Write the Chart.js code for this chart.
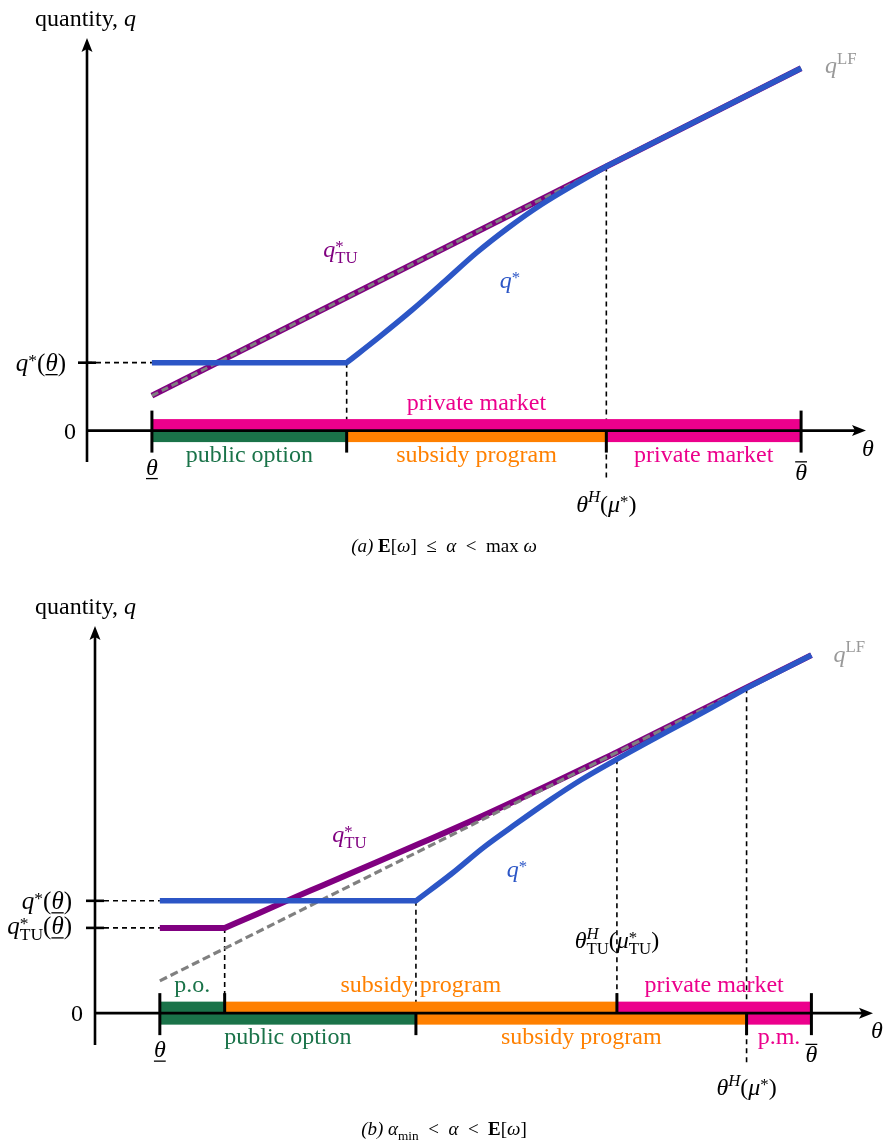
<!DOCTYPE html>
<html>
<head>
<meta charset="utf-8">
<script src="https://cdn.jsdelivr.net/npm/chart.js@4.4.0/dist/chart.umd.min.js"></script>
<style>
  html, body { margin: 0; padding: 0; background: #fff; }
  canvas { display: block; }
</style>
</head>
<body>
<canvas id="chartA" width="888" height="575"></canvas>
<canvas id="chartB" width="888" height="571"></canvas>
<script>
// ---------- panel (a) : E[w] <= alpha < max w ----------
const thetaLowA = 10, kinkA = 40, thetaHA = 80, thetaHighA = 110;
const laissezFaireA = [[10, 8.9], [110, 92.3]];
const tuLineA = [[10, 8.9], [110, 92.3]];          // q*_TU coincides with q^LF
const qStarA = [[10, 17.3], [40, 17.3], [45, 23.8], [50, 30.6], [55, 37.9], [60, 45.3],
                [65, 51.8], [70, 57.6], [75, 62.6], [80, 67.3], [110, 92.3]];
const aboveA = [['private market', 10, 110]];
const belowA = [['public option', 10, 40], ['subsidy program', 40, 80], ['private market', 80, 110]];
const ticksA = [[10, 'both'], [40, 'below'], [80, 'below'], [110, 'both']];

// ---------- panel (b) : alpha_min < alpha < E[w] ----------
const thetaLowB = 10, poB = 20, kinkB = 49.5, thetaHTUB = 80.5, thetaHB = 100.5, thetaHighB = 110.5;
const laissezFaireB = [[10, 8.1], [110.5, 89.9]];
const tuLineB = [[10, 21.4], [20, 21.4], [25, 24.9], [30, 28.5], [35, 32.0], [40, 35.5],
                 [50, 42.5], [60, 49.7], [70, 57.3], [80, 65.1], [110.5, 89.9]];
const qStarB = [[10, 28.2], [49.5, 28.2], [55, 35.0], [60, 41.7], [65, 47.6], [70, 53.3],
                [75, 58.6], [80, 63.3], [85, 67.8], [90, 72.2], [95, 76.6], [100.5, 81.6], [110.5, 89.9]];
const aboveB = [['p.o.', 10, 20], ['subsidy program', 20, 80.5], ['private market', 80.5, 110.5]];
const belowB = [['public option', 10, 49.5], ['subsidy program', 49.5, 100.5], ['p.m.', 100.5, 110.5]];
const ticksB = [[10, 'both'], [20, 'above'], [49.5, 'below'], [80.5, 'above'], [100.5, 'below'], [110.5, 'both']];

const programColor = {
    'public option': '#1a7349', 'p.o.': '#1a7349',
    'subsidy program': '#ff8000',
    'private market': '#ec008c', 'p.m.': '#ec008c'
};
const BLUE = '#2c56c6', PURPLE = '#800080', GRAY = '#808080';
const SERIF = '"Liberation Serif", "Times New Roman", serif';

// value of a polyline at x (used to start the guide lines on the curves)
function valueAt(pts, x) {
    for (let i = 1; i < pts.length; i++) {
        if (x <= pts[i][0]) {
            const [x1, y1] = pts[i - 1], [x2, y2] = pts[i];
            return y1 + (y2 - y1) * (x - x1) / (x2 - x1);
        }
    }
    return pts[pts.length - 1][1];
}
const idx = (pts, x) => pts.findIndex(p => p[0] === x);

// ---- little rich text helper (italic / sup / sub / bars) ----
const R = t => ({ t });
const I = (t, deco) => ({ t, i: true, deco });
const B = t => ({ t, b: true });
const Sup = (t, i, raise) => ({ t, i, sup: true, raise });
const Sub = (t, i) => ({ t, i, sub: true });
const SS = (a, b) => ({ stack: [a, b] });
const SP = '\u2002';   // wider space round relations, like math spacing

function font(size, it, bold) {
    return (it ? 'italic ' : '') + (bold ? 'bold ' : '') + size + 'px ' + SERIF;
}
function partWidth(ctx, p, size) {
    if (p.stack) {
        return Math.max(...p.stack.map(q => {
            ctx.font = font(size * 0.7, q.i, q.b);
            return ctx.measureText(q.t).width;
        }));
    }
    ctx.font = font((p.sup || p.sub) ? size * 0.7 : size, p.i, p.b);
    return ctx.measureText(p.t).width;
}
function drawRich(ctx, parts, x, y, align, color, size) {
    size = size || 24;
    let w = 0;
    parts.forEach(p => w += partWidth(ctx, p, size));
    let cx = align === 'center' ? x - w / 2 : align === 'right' ? x - w : x;
    ctx.save();
    ctx.fillStyle = color;
    ctx.strokeStyle = color;
    ctx.textAlign = 'left';
    ctx.textBaseline = 'alphabetic';
    parts.forEach(p => {
        const pw = partWidth(ctx, p, size);
        if (p.stack) {
            const [a, b] = p.stack;
            ctx.font = font(size * 0.7, a.i, a.b);
            ctx.fillText(a.t, cx, y - size * (a.raise || 0.4));
            ctx.font = font(size * 0.7, b.i, b.b);
            ctx.fillText(b.t, cx, y + size * 0.24);
        } else {
            ctx.font = font((p.sup || p.sub) ? size * 0.7 : size, p.i, p.b);
            const dy = p.sup ? -size * (p.raise || 0.4) : p.sub ? size * 0.24 : 0;
            ctx.fillText(p.t, cx, y + dy);
            if (p.deco) {
                ctx.lineWidth = 1.3;
                ctx.beginPath();
                const ly = p.deco === 'under' ? y + 4 : y - size * 0.74;
                ctx.moveTo(cx, ly);
                ctx.lineTo(cx + pw, ly);
                ctx.stroke();
            }
        }
        cx += pw;
    });
    ctx.restore();
}

function lineSet(points, color, width, order, extra) {
    return Object.assign({
        data: points.map(([x, y]) => ({ x, y })),
        borderColor: color,
        borderWidth: width,
        pointRadius: 0,
        fill: false,
        tension: 0,
        borderCapStyle: 'butt',
        borderJoinStyle: 'miter',
        order: order
    }, extra || {});
}
// smooth middle part of a kinked curve; round cap hides the seam at the kink
const smooth = { cubicInterpolationMode: 'monotone', borderCapStyle: 'round' };

function dashed(ctx, x1, y1, x2, y2) {
    ctx.save();
    ctx.strokeStyle = '#000';
    ctx.lineWidth = 1.6;
    ctx.setLineDash([5, 4]);
    ctx.beginPath();
    ctx.moveTo(x1, y1);
    ctx.lineTo(x2, y2);
    ctx.stroke();
    ctx.restore();
}

// bars, axes with arrows, ticks and program names
function drawFrame(chart, above, below, ticks) {
    const ctx = chart.ctx;
    const { top, bottom, right } = chart.chartArea;
    const sx = chart.scales.x, sy = chart.scales.y;
    const x0 = sx.getPixelForValue(0), y0 = sy.getPixelForValue(0);
    const H = 11.5;
    ctx.save();
    above.forEach(([name, a, b]) => {
        ctx.fillStyle = programColor[name];
        ctx.fillRect(sx.getPixelForValue(a), y0 - H, sx.getPixelForValue(b) - sx.getPixelForValue(a), H);
        drawRich(ctx, [R(name)], (sx.getPixelForValue(a) + sx.getPixelForValue(b)) / 2, y0 - 21, 'center', programColor[name]);
    });
    below.forEach(([name, a, b]) => {
        ctx.fillStyle = programColor[name];
        ctx.fillRect(sx.getPixelForValue(a), y0, sx.getPixelForValue(b) - sx.getPixelForValue(a), H);
        drawRich(ctx, [R(name)], (sx.getPixelForValue(a) + sx.getPixelForValue(b)) / 2, y0 + 31, 'center', programColor[name]);
    });
    ctx.strokeStyle = '#000';
    ctx.fillStyle = '#000';
    ctx.lineWidth = 2.6;
    ctx.beginPath();
    ctx.moveTo(x0, bottom);
    ctx.lineTo(x0, top + 10);
    ctx.moveTo(x0, y0);
    ctx.lineTo(right - 10, y0);
    ctx.stroke();
    ctx.beginPath();
    ctx.moveTo(x0, top);
    ctx.lineTo(x0 - 5.5, top + 14);
    ctx.lineTo(x0, top + 11);
    ctx.lineTo(x0 + 5.5, top + 14);
    ctx.closePath();
    ctx.fill();
    ctx.beginPath();
    ctx.moveTo(right, y0);
    ctx.lineTo(right - 14, y0 - 5.5);
    ctx.lineTo(right - 11, y0);
    ctx.lineTo(right - 14, y0 + 5.5);
    ctx.closePath();
    ctx.fill();
    ctx.lineWidth = 3;
    ticks.forEach(([v, kind]) => {
        const px = sx.getPixelForValue(v);
        ctx.beginPath();
        ctx.moveTo(px, kind === 'below' ? y0 : y0 - 20);
        ctx.lineTo(px, kind === 'above' ? y0 : y0 + 22);
        ctx.stroke();
    });
    ctx.restore();
}

function yTick(chart, v) {
    const ctx = chart.ctx;
    const x0 = chart.scales.x.getPixelForValue(0), py = chart.scales.y.getPixelForValue(v);
    ctx.save();
    ctx.strokeStyle = '#000';
    ctx.lineWidth = 2.6;
    ctx.beginPath();
    ctx.moveTo(x0 - 9, py);
    ctx.lineTo(x0 + 9, py);
    ctx.stroke();
    ctx.restore();
}

function baseOptions(pad, yMax) {
    return {
        responsive: false,
        animation: false,
        devicePixelRatio: 1,
        layout: { padding: pad },
        scales: {
            x: { type: 'linear', min: 0, max: 120, display: false },
            y: { type: 'linear', min: -8, max: yMax, display: false }
        },
        plugins: { legend: { display: false }, tooltip: { enabled: false } }
    };
}

// ---------- chart (a) ----------
const qLowA = qStarA[0][1];
const hA = idx(qStarA, thetaHA);
new Chart(document.getElementById('chartA').getContext('2d'), {
    type: 'line',
    data: {
        datasets: [
            lineSet(qStarA.slice(0, 2), BLUE, 5.5, 1),
            lineSet(qStarA.slice(1, hA + 1), BLUE, 5.5, 1, smooth),
            lineSet(qStarA.slice(hA), BLUE, 5.5, 1),
            lineSet(laissezFaireA, GRAY, 3, 2, { borderDash: [7, 4] }),
            lineSet(tuLineA, PURPLE, 6, 3)
        ]
    },
    options: baseOptions({ left: 87, right: 22, top: 38, bottom: 113 }, 100),
    plugins: [{
        id: 'guidesA',
        beforeDatasetsDraw(chart) {
            const ctx = chart.ctx, sx = chart.scales.x, sy = chart.scales.y;
            const x0 = sx.getPixelForValue(0), y0 = sy.getPixelForValue(0);
            dashed(ctx, x0, sy.getPixelForValue(qLowA), sx.getPixelForValue(thetaLowA), sy.getPixelForValue(qLowA));
            dashed(ctx, sx.getPixelForValue(kinkA), sy.getPixelForValue(qLowA), sx.getPixelForValue(kinkA), y0);
            dashed(ctx, sx.getPixelForValue(thetaHA), sy.getPixelForValue(valueAt(qStarA, thetaHA)),
                   sx.getPixelForValue(thetaHA), y0 + 50);
        },
        afterDatasetsDraw(chart) {
            const ctx = chart.ctx, sx = chart.scales.x, sy = chart.scales.y;
            const x0 = sx.getPixelForValue(0), y0 = sy.getPixelForValue(0);
            drawFrame(chart, aboveA, belowA, ticksA);
            yTick(chart, qLowA);
            drawRich(ctx, [R('quantity, '), I('q')], x0 - 52, chart.chartArea.top - 12, 'left', '#000');
            drawRich(ctx, [I('q'), Sup('*', false, 0.2), R('('), I('θ', 'under'), R(')')],
                     x0 - 21, sy.getPixelForValue(qLowA) + 8, 'right', '#000', 25);
            drawRich(ctx, [R('0')], x0 - 17, y0 + 8, 'center', '#000');
            drawRich(ctx, [I('θ', 'under')], sx.getPixelForValue(thetaLowA), y0 + 44, 'center', '#000');
            drawRich(ctx, [I('θ', 'over')], sx.getPixelForValue(thetaHighA), y0 + 49, 'center', '#000');
            drawRich(ctx, [I('θ')], chart.chartArea.right + 2, y0 + 25, 'center', '#000');
            drawRich(ctx, [I('θ'), Sup('H', true), R('('), I('μ'), Sup('*', false, 0.2), R(')')],
                     sx.getPixelForValue(thetaHA), y0 + 81, 'center', '#000');
            drawRich(ctx, [I('q'), SS({ t: '*', raise: 0.2 }, { t: 'TU' })],
                     sx.getPixelForValue(36.4), sy.getPixelForValue(44.2), 'left', PURPLE);
            drawRich(ctx, [I('q'), Sup('*', false, 0.2)],
                     sx.getPixelForValue(63.6), sy.getPixelForValue(36.3), 'left', BLUE);
            const end = laissezFaireA[laissezFaireA.length - 1];
            drawRich(ctx, [I('q'), Sup('LF', false, 0.4)],
                     sx.getPixelForValue(end[0]) + 24, sy.getPixelForValue(end[1]) + 5, 'left', '#999999');
            drawRich(ctx, [I('(a)'), R(' '), B('E'), R('['), I('ω'), R(']' + SP + '≤' + SP), I('α'),
                           R(SP + '<' + SP + 'max '), I('ω')],
                     444, 552, 'center', '#000', 19);
        }
    }]
});

// ---------- chart (b) ----------
const qLowB = qStarB[0][1], qTULowB = tuLineB[0][1];
const hB = idx(qStarB, thetaHB), tB = idx(tuLineB, 80);
new Chart(document.getElementById('chartB').getContext('2d'), {
    type: 'line',
    data: {
        datasets: [
            lineSet(qStarB.slice(0, 2), BLUE, 5.5, 1),
            lineSet(qStarB.slice(1, hB + 1), BLUE, 5.5, 1, smooth),
            lineSet(qStarB.slice(hB), BLUE, 5.5, 1),
            lineSet(laissezFaireB, GRAY, 3.2, 2, { borderDash: [8, 4] }),
            lineSet(tuLineB.slice(0, 2), PURPLE, 6, 3),
            lineSet(tuLineB.slice(1, tB + 1), PURPLE, 6, 3, smooth),
            lineSet(tuLineB.slice(tB), PURPLE, 6, 3)
        ]
    },
    options: baseOptions({ left: 95, right: 15, top: 51, bottom: 101 }, 97.2),
    plugins: [{
        id: 'guidesB',
        beforeDatasetsDraw(chart) {
            const ctx = chart.ctx, sx = chart.scales.x, sy = chart.scales.y;
            const x0 = sx.getPixelForValue(0), y0 = sy.getPixelForValue(0);
            [qLowB, qTULowB].forEach(v => {
                dashed(ctx, x0, sy.getPixelForValue(v), sx.getPixelForValue(thetaLowB), sy.getPixelForValue(v));
            });
            dashed(ctx, sx.getPixelForValue(poB), sy.getPixelForValue(qTULowB), sx.getPixelForValue(poB), y0);
            dashed(ctx, sx.getPixelForValue(kinkB), sy.getPixelForValue(qLowB), sx.getPixelForValue(kinkB), y0);
            dashed(ctx, sx.getPixelForValue(thetaHTUB), sy.getPixelForValue(valueAt(qStarB, thetaHTUB)),
                   sx.getPixelForValue(thetaHTUB), y0);
            dashed(ctx, sx.getPixelForValue(thetaHB), sy.getPixelForValue(valueAt(qStarB, thetaHB)),
                   sx.getPixelForValue(thetaHB), y0 + 52);
        },
        afterDatasetsDraw(chart) {
            const ctx = chart.ctx, sx = chart.scales.x, sy = chart.scales.y;
            const x0 = sx.getPixelForValue(0), y0 = sy.getPixelForValue(0);
            drawFrame(chart, aboveB, belowB, ticksB);
            yTick(chart, qLowB);
            yTick(chart, qTULowB);
            drawRich(ctx, [R('quantity, '), I('q')], x0 - 60, chart.chartArea.top - 12, 'left', '#000');
            drawRich(ctx, [I('q'), Sup('*', false, 0.2), R('('), I('θ', 'under'), R(')')],
                     x0 - 23, sy.getPixelForValue(qLowB) + 8, 'right', '#000', 25);
            drawRich(ctx, [I('q'), SS({ t: '*', raise: 0.2 }, { t: 'TU' }), R('('), I('θ', 'under'), R(')')],
                     x0 - 23, sy.getPixelForValue(qTULowB) + 6, 'right', '#000', 25);
            drawRich(ctx, [R('0')], x0 - 18, y0 + 8, 'center', '#000');
            drawRich(ctx, [I('θ', 'under')], sx.getPixelForValue(thetaLowB), y0 + 44, 'center', '#000');
            drawRich(ctx, [I('θ', 'over')], sx.getPixelForValue(thetaHighB), y0 + 49, 'center', '#000');
            drawRich(ctx, [I('θ')], chart.chartArea.right + 4, y0 + 25, 'center', '#000');
            drawRich(ctx, [I('θ'), SS({ t: 'H', i: true }, { t: 'TU' }), R('('), I('μ'),
                           SS({ t: '*', raise: 0.2 }, { t: 'TU' }), R(')')],
                     sx.getPixelForValue(thetaHTUB), y0 - 65, 'center', '#000');
            drawRich(ctx, [I('θ'), Sup('H', true), R('('), I('μ'), Sup('*', false, 0.2), R(')')],
                     sx.getPixelForValue(thetaHB), y0 + 82, 'center', '#000');
            drawRich(ctx, [I('q'), SS({ t: '*', raise: 0.2 }, { t: 'TU' })],
                     sx.getPixelForValue(36.6), sy.getPixelForValue(43.0), 'left', PURPLE);
            drawRich(ctx, [I('q'), Sup('*', false, 0.2)],
                     sx.getPixelForValue(63.5), sy.getPixelForValue(34.2), 'left', BLUE);
            const end = laissezFaireB[laissezFaireB.length - 1];
            drawRich(ctx, [I('q'), Sup('LF', false, 0.4)],
                     sx.getPixelForValue(end[0]) + 22, sy.getPixelForValue(end[1]) + 7, 'left', '#999999');
            drawRich(ctx, [I('(b)'), R(' '), I('α'), Sub('min'), R(SP + '<' + SP), I('α'),
                           R(SP + '<' + SP), B('E'), R('['), I('ω'), R(']')],
                     444, 560, 'center', '#000', 19);
        }
    }]
});
</script>
</body>
</html>
